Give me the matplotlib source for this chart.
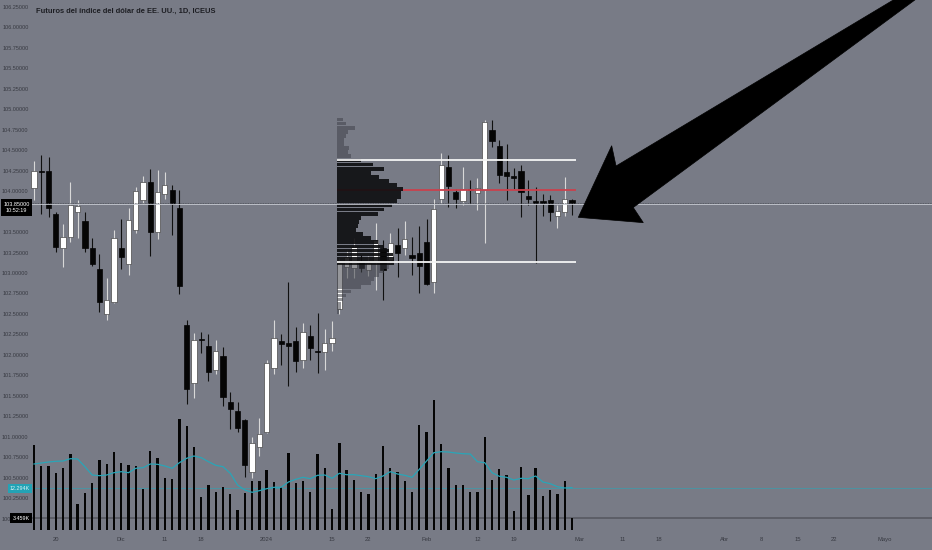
import matplotlib
matplotlib.use("Agg")
import matplotlib.pyplot as plt
import numpy as np
from matplotlib.patches import Polygon

plt.rcParams['font.family'] = ['Liberation Sans Narrow', 'Liberation Sans', 'DejaVu Sans']

title = "Futuros del índice del dólar de EE. UU., 1D, ICEUS"

# Daily OHLC (bar index 0 = 15 Nov 2023 ... 74 = 29 Feb 2024)
opens = [104.04, 104.24, 104.25, 103.72, 103.31, 103.44, 103.74, 103.64, 103.31, 103.05,
         102.50, 102.65, 103.30, 103.11, 103.52, 103.89, 104.11, 103.50, 103.96, 104.01,
         103.79, 102.37, 101.66, 102.19, 102.11, 101.81, 101.99, 101.43, 101.31, 101.20,
         100.57, 100.87, 101.06, 101.84, 102.17, 102.14, 102.17, 101.94, 102.23, 102.05,
         102.03, 102.14, 102.56, 103.07, 103.06, 103.13, 103.04, 103.14, 103.31, 103.16,
         103.34, 103.30, 103.22, 103.25, 103.38, 102.89, 103.90, 104.29, 103.99, 103.88,
         104.03, 103.98, 104.01, 104.75, 104.55, 104.23, 104.18, 104.25, 103.94, 103.88,
         103.88, 103.89, 103.70, 103.75, 103.89]
highs = [104.37, 104.44, 104.42, 103.75, 103.60, 104.11, 103.89, 103.75, 103.43, 103.23,
         102.94, 103.53, 103.66, 103.80, 104.05, 104.19, 104.27, 104.26, 104.23, 104.08,
         104.01, 102.42, 102.27, 102.28, 102.26, 102.18, 102.09, 101.54, 101.43, 101.22,
         101.00, 101.23, 101.94, 102.43, 102.26, 102.89, 102.34, 102.39, 102.36, 102.51,
         102.32, 102.41, 103.18, 103.28, 103.43, 103.22, 103.21, 103.61, 103.40, 103.49,
         103.55, 103.64, 103.44, 103.57, 103.66, 103.90, 104.46, 104.44, 104.03, 104.30,
         104.13, 104.16, 104.87, 104.87, 104.62, 104.58, 104.28, 104.32, 104.13, 104.05,
         103.97, 103.95, 103.83, 104.17, 103.91]
lows = [103.89, 103.72, 103.69, 103.26, 103.07, 103.38, 103.43, 103.26, 103.08, 102.52,
        102.43, 102.63, 103.05, 102.98, 103.49, 103.84, 103.21, 103.41, 103.91, 103.46,
        102.74, 101.40, 101.47, 102.02, 101.68, 101.77, 101.38, 101.09, 101.06, 100.51,
        100.49, 100.76, 101.04, 101.77, 101.88, 101.62, 101.79, 101.84, 101.94, 101.78,
        101.82, 102.05, 102.50, 102.94, 102.94, 103.01, 102.96, 102.79, 102.67, 103.12,
        102.95, 103.22, 102.98, 102.76, 102.85, 102.75, 103.85, 103.81, 103.80, 103.83,
        103.84, 103.77, 103.37, 104.54, 104.10, 103.89, 104.03, 103.69, 103.83, 103.12,
        103.70, 103.64, 103.55, 103.70, 103.71]
closes = [104.25, 104.23, 103.79, 103.32, 103.44, 103.83, 103.82, 103.30, 103.11, 102.65,
          102.67, 103.43, 103.19, 103.65, 104.00, 104.11, 103.50, 103.99, 104.07, 103.84,
          102.84, 101.58, 102.18, 102.18, 101.79, 102.05, 101.48, 101.34, 101.11, 100.66,
          100.92, 101.03, 101.90, 102.20, 102.13, 102.11, 101.93, 102.28, 102.08, 102.03,
          102.15, 102.21, 103.12, 103.20, 103.32, 103.06, 103.12, 103.40, 103.04, 103.37,
          103.24, 103.42, 103.18, 103.09, 102.87, 103.78, 104.32, 104.06, 103.91, 104.03,
          104.01, 104.04, 104.84, 104.61, 104.20, 104.18, 104.16, 103.99, 103.91, 103.85,
          103.85, 103.75, 103.76, 103.90, 103.85]

# Volume (thousands of contracts) and its moving average
volume_k = [24.65, 18.65, 18.65, 16.53, 17.89, 21.95, 7.63, 10.64, 13.72, 20.39,
            19.05, 22.62, 19.34, 18.85, 18.65, 11.89, 22.91, 20.79, 15.08, 14.70,
            32.19, 30.16, 24.16, 9.57, 13.05, 11.02, 12.38, 10.35, 5.71, 10.82,
            14.30, 14.21, 17.40, 13.92, 12.38, 22.33, 13.72, 14.12, 10.93, 22.13,
            18.07, 6.09, 25.23, 17.40, 14.50, 10.93, 10.35, 16.15, 24.27, 18.07,
            16.82, 14.30, 10.93, 30.36, 28.42, 37.79, 24.85, 17.89, 13.14, 13.14,
            10.93, 11.02, 26.88, 14.50, 17.60, 15.95, 5.51, 18.27, 10.06, 18.07,
            9.86, 11.51, 10.44, 14.30, 3.459]
volume_ma_k = [19.14, 19.43, 19.72, 19.92, 20.01, 20.68, 20.59, 18.36, 15.95, 15.75,
               15.95, 16.62, 16.91, 16.62, 17.89, 18.07, 19.14, 19.05, 18.56, 17.89,
               19.52, 20.79, 21.46, 20.97, 19.81, 18.76, 18.36, 16.44, 13.05, 11.60,
               10.93, 11.40, 11.98, 12.38, 12.38, 13.92, 14.70, 15.28, 14.88, 15.86,
               15.95, 14.99, 16.44, 16.04, 16.04, 15.75, 15.46, 14.88, 15.66, 16.91,
               16.24, 15.86, 15.28, 17.60, 20.01, 22.42, 22.71, 22.62, 22.33, 22.13,
               22.04, 19.81, 19.52, 16.62, 15.57, 15.28, 14.50, 14.99, 14.88, 15.66,
               13.92, 13.43, 12.56, 12.18, 12.29]

# Fixed range volume profile (row centre price, relative volume)
profile_prices = [104.875, 104.825, 104.775, 104.725, 104.675, 104.625, 104.575, 104.525, 104.475, 104.425,
                  104.375, 104.325, 104.275, 104.225, 104.175, 104.125, 104.075, 104.025, 103.975, 103.925,
                  103.875, 103.825, 103.775, 103.725, 103.675, 103.625, 103.575, 103.525, 103.475, 103.425,
                  103.375, 103.325, 103.275, 103.225, 103.175, 103.125, 103.075, 103.025, 102.975, 102.925,
                  102.875, 102.825, 102.775, 102.725, 102.675, 102.625, 102.575, 102.525]
profile_volume = [6, 9, 18, 11, 9, 7, 7, 12, 11, 14,
                  24, 36, 47, 34, 42, 52, 60, 66, 64, 64,
                  60, 55, 47, 41, 24, 22, 21, 19, 26, 34,
                  41, 47, 52, 56, 57, 57, 52, 47, 42, 37,
                  34, 24, 14, 9, 6, 4, 4, 2]
profile_start_bar = 42
vah, poc, val = 104.38, 104.01, 103.13
last_price = 103.85
last_price_label = "103.85000\n10:52:19"
ma_label = "12.294K"
vol_label = "3.459K"

x_tick_pos = [3, 12, 18, 23, 32, 41, 46, 54, 61, 66, 75, 81, 86, 95, 100, 105, 110, 117]
x_tick_labels = ["20", "Dic", "11", "18", "2024", "15", "22", "Feb", "12", "19",
                 "Mar", "11", "18", "Abr", "8", "15", "22", "Mayo"]
price_ticks = [100.00, 100.25, 100.50, 100.75, 101.00, 101.25, 101.50, 101.75, 102.00,
               102.25, 102.50, 102.75, 103.00, 103.25, 103.50, 103.75, 104.00, 104.25,
               104.50, 104.75, 105.00, 105.25, 105.50, 105.75, 106.00, 106.25]
hidden_ticks = [103.75]   # covered by the last-price tag

# Arrow drawing anchored in (bar index, price)
arrow_pts = [(74.87, 103.68), (79.46, 104.555), (80.06, 104.307), (122.8, 106.58),
             (124.9, 106.58), (82.43, 103.80), (83.81, 103.615)]

# ---------------- styling ----------------
BG = '#787b86'
TXT = '#383a42'
W, H = 932, 550
fig = plt.figure(figsize=(W / 100, H / 100), dpi=100, facecolor=BG)
rect = [31 / W, 19 / H, 901 / W, 531 / H]
ax_vol = fig.add_axes(rect)
ax = fig.add_axes(rect)
xlim = (-0.413, 123.52)
for a in (ax_vol, ax):
    a.set_xlim(*xlim)
    for s in a.spines.values():
        s.set_visible(False)
ax_vol.set_facecolor(BG)
ax.patch.set_alpha(0)
ax.set_ylim(99.848, 106.335)
ax_vol.set_ylim(-0.29, 153.7)
ax_vol.set_xticks([])
ax_vol.set_yticks([])

n = len(closes)
x = np.arange(n)
o = np.array(opens); c = np.array(closes)
hi = np.array(highs); lo = np.array(lows)
up = c >= o

# volume
ax_vol.bar(x, volume_k, width=0.32, color='#050505', zorder=2)
ax_vol.plot(x, volume_ma_k, color='#2aa5b7', lw=0.9, zorder=3)
ax_vol.axhline(volume_ma_k[-1], color='#2aa5b7', lw=0.5, alpha=0.8, zorder=1)
ax_vol.axhline(volume_k[-1], color='#54565e', lw=1.1, zorder=1)

# candles
wick_cols = ['#d8d8d8' if u else '#101010' for u in up]
ax.vlines(x, lo, hi, colors=wick_cols, lw=0.8, zorder=2)
bottoms = np.minimum(o, c)
heights = np.maximum(np.abs(c - o), 0.014)
body_cols = ['#ffffff' if u else '#050505' for u in up]
edge_cols = ['#4a4a4a' if u else '#050505' for u in up]
ax.bar(x, heights, bottom=bottoms, width=0.72, color=body_cols, edgecolor=edge_cols,
       linewidth=0.5, zorder=3)

# volume profile
prof = np.array(profile_volume, dtype=float)
start = profile_start_bar - 0.36
end = n - 1 + 0.5
max_w = 9.1
widths = prof / prof.max() * max_w
pp = np.array(profile_prices)
row_cols = [(0.05, 0.05, 0.06, 0.9) if (val - 0.01) <= p <= (vah + 0.01) else (0.25, 0.26, 0.29, 0.55)
            for p in pp]
ax.hlines(poc, start, end, colors='#c9414d', lw=1.3, zorder=3.5)
ax.barh(pp, widths, height=0.046, left=start, color=row_cols, linewidth=0, zorder=4)
ax.hlines([vah, val], start, end, colors='#f4f4f4', lw=1.3, zorder=5)

# last price line
ax.axhline(last_price + 0.007, color='#4d4f57', lw=0.6, ls=(0, (1, 1)), zorder=6)
ax.axhline(last_price - 0.005, color='#c8cbd2', lw=0.6, zorder=6)

# arrow drawing
ax.add_patch(Polygon(arrow_pts, closed=True, fc='black', ec='black', lw=0.5, zorder=8))

# axes ticks / labels
ax.set_yticks(price_ticks, ["" if p in hidden_ticks else f"{p:.5f}" for p in price_ticks])
ax.tick_params(axis='y', length=0, pad=1.8, labelsize=4.0, labelcolor=TXT)
ax.set_xticks(x_tick_pos, x_tick_labels)
ax.tick_params(axis='x', length=0, pad=4.5, labelsize=4.2, labelcolor=TXT)

def fx(px):
    return px / W

def fy(py):
    return 1 - py / H

fig.text(fx(36), fy(11), title, fontsize=5.4, fontweight='bold', color='#1d1e23',
         ha='left', va='center')
fig.text(fx(16.5), fy(207.5), last_price_label, fontsize=4.0, color='white', ha='center',
         va='center', linespacing=1.35,
         bbox=dict(boxstyle='square,pad=0.45', fc='black', ec='none'), zorder=10)
fig.text(fx(20), fy(488.5), ma_label, fontsize=3.9, color='#d8f2f5', ha='center', va='center',
         bbox=dict(boxstyle='square,pad=0.4', fc='#23a3b5', ec='none'), zorder=10)
fig.text(fx(21), fy(518), vol_label, fontsize=3.9, color='white', ha='center', va='center',
         bbox=dict(boxstyle='square,pad=0.4', fc='black', ec='none'), zorder=10)

fig.savefig("out.png", dpi=100, facecolor=BG)
